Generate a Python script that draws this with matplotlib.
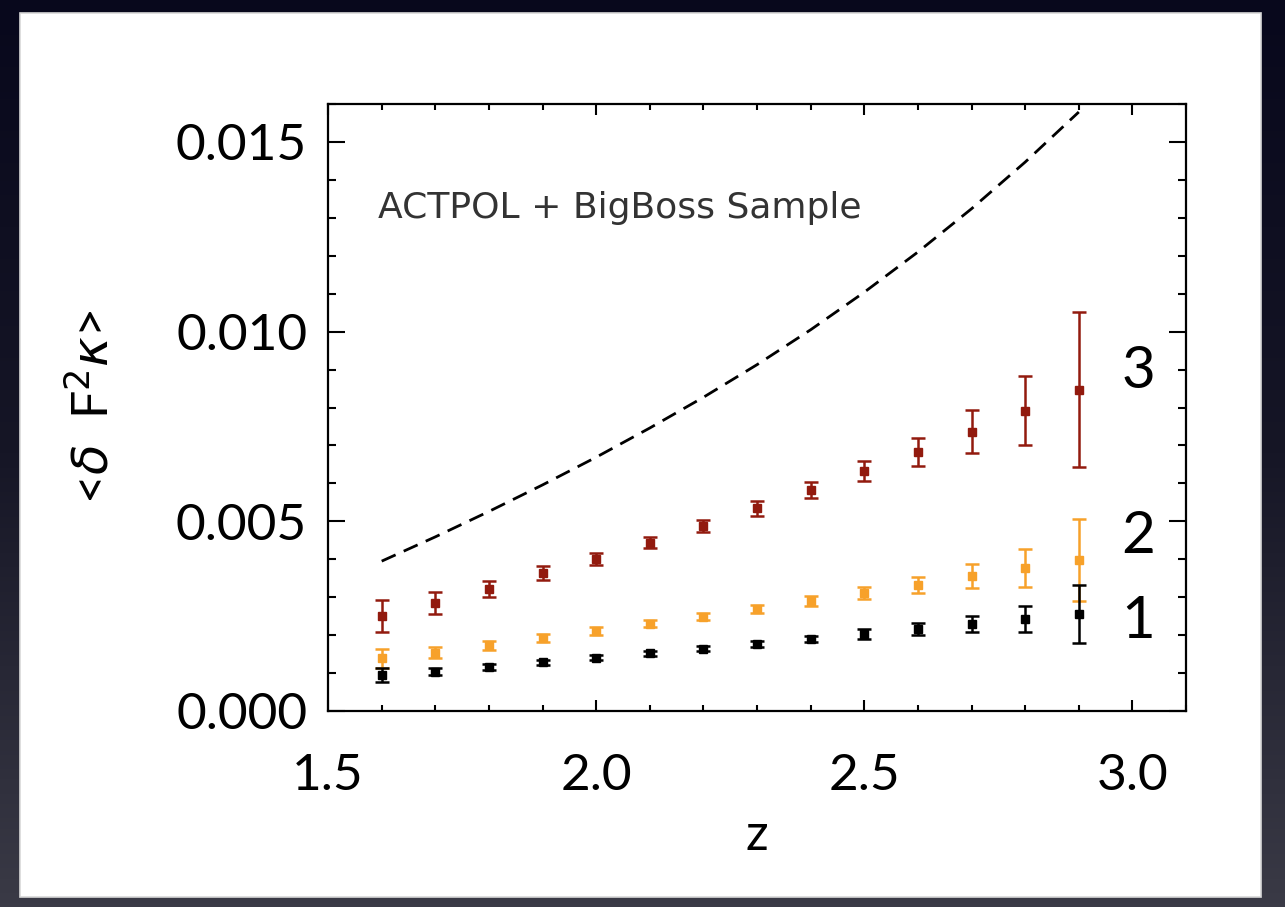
import matplotlib
matplotlib.use("Agg")
import matplotlib.pyplot as plt
from matplotlib.patches import Rectangle
from matplotlib.ticker import MultipleLocator, FormatStrFormatter
import numpy as np

# redshift bins
z = [1.6, 1.7, 1.8, 1.9, 2.0, 2.1, 2.2, 2.3, 2.4, 2.5, 2.6, 2.7, 2.8, 2.9]

# <delta F^2 kappa> per sample (units of 1e-3) and 1-sigma errors
s1 = [0.95, 1.04, 1.17, 1.28, 1.41, 1.52, 1.64, 1.77, 1.90, 2.03, 2.16, 2.29, 2.42, 2.55]
s1_err = [0.18, 0.10, 0.08, 0.07, 0.07, 0.07, 0.07, 0.08, 0.09, 0.12, 0.16, 0.21, 0.35, 0.76]
s2 = [1.39, 1.54, 1.73, 1.92, 2.11, 2.30, 2.49, 2.69, 2.90, 3.10, 3.32, 3.56, 3.76, 3.98]
s2_err = [0.25, 0.14, 0.12, 0.10, 0.10, 0.09, 0.09, 0.10, 0.12, 0.16, 0.21, 0.32, 0.50, 1.09]
s3 = [2.50, 2.85, 3.22, 3.63, 4.01, 4.44, 4.87, 5.34, 5.83, 6.33, 6.83, 7.36, 7.92, 8.47]
s3_err = [0.43, 0.28, 0.21, 0.18, 0.16, 0.15, 0.16, 0.19, 0.21, 0.27, 0.37, 0.57, 0.92, 2.05]

# theory curve (dashed)
model = [3.95, 4.59, 5.26, 5.96, 6.69, 7.46, 8.27, 9.13, 10.05, 11.04, 12.10, 13.24, 14.47, 15.79]

sample_labels = ["1", "2", "3"]
label_y = [2.37, 4.59, 8.94]

scale = 1e-3
c_black = "#000000"
c_orange = "#f7a12a"
c_red = "#921a0e"

plt.rcParams['font.family'] = ['Lato', 'DejaVu Sans']
plt.rcParams['mathtext.fontset'] = 'dejavusans'

fig = plt.figure(figsize=(12.85, 9.07), dpi=100)

# dark backdrop with a white card on top
bg = fig.add_axes([0, 0, 1, 1], zorder=-10)
grad = np.linspace(0, 1, 256).reshape(-1, 1)
cmap = matplotlib.colors.LinearSegmentedColormap.from_list("bg", ["#08081c", "#161626", "#3a3a46"])
bg.imshow(grad, aspect='auto', cmap=cmap, extent=[0, 1, 0, 1], origin='upper')
bg.set_axis_off()
card = Rectangle((0.0156, 0.0110), 0.966, 0.9750, transform=fig.transFigure,
                 facecolor='white', edgecolor='#d8d8d8', linewidth=1.2, zorder=-5)
fig.patches.append(card)

ax = fig.add_axes([0.2553, 0.2161, 0.6677, 0.6692])
ax.set_facecolor('white')

zz = np.array(z)
ax.plot(zz, np.array(model) * scale, color='black', lw=2.0, dashes=(5.5, 3.2))

for vals, errs, col in [(s2, s2_err, c_orange), (s1, s1_err, c_black), (s3, s3_err, c_red)]:
    ax.errorbar(zz, np.array(vals) * scale, yerr=np.array(errs) * scale, fmt='s',
                color=col, ms=5.5, capsize=5, elinewidth=1.8, capthick=1.8)

ax.set_xlim(1.5, 3.1)
ax.set_ylim(0, 0.016)

ax.xaxis.set_major_locator(MultipleLocator(0.5))
ax.xaxis.set_minor_locator(MultipleLocator(0.1))
ax.yaxis.set_major_locator(MultipleLocator(0.005))
ax.yaxis.set_minor_locator(MultipleLocator(0.001))
ax.xaxis.set_major_formatter(FormatStrFormatter('%.1f'))
ax.yaxis.set_major_formatter(FormatStrFormatter('%.3f'))

for sp in ax.spines.values():
    sp.set_linewidth(1.6)

ax.tick_params(axis='both', which='both', direction='in', top=True, right=True,
               width=1.5, labelsize=37, colors='black')
ax.tick_params(axis='x', which='major', length=8, pad=30)
ax.tick_params(axis='x', which='minor', length=4.5)
ax.tick_params(axis='y', which='major', length=12, pad=15)
ax.tick_params(axis='y', which='minor', length=5.5)

ax.set_xlabel("z", fontsize=36, labelpad=10)
ax.set_ylabel(r"<$\delta$  F$^{2}\kappa$>", fontsize=36)
ax.yaxis.set_label_coords(-0.245, 0.5)

ax.text(1.593, 0.01326, "ACTPOL + BigBoss Sample", fontsize=26, va='center', ha='left',
        family='DejaVu Sans', color='#333333')

for lab, yv in zip(sample_labels, label_y):
    ax.text(3.011, yv * scale, lab, fontsize=42, ha='center', va='center', color='black')

fig.savefig("out.png", dpi=100)
